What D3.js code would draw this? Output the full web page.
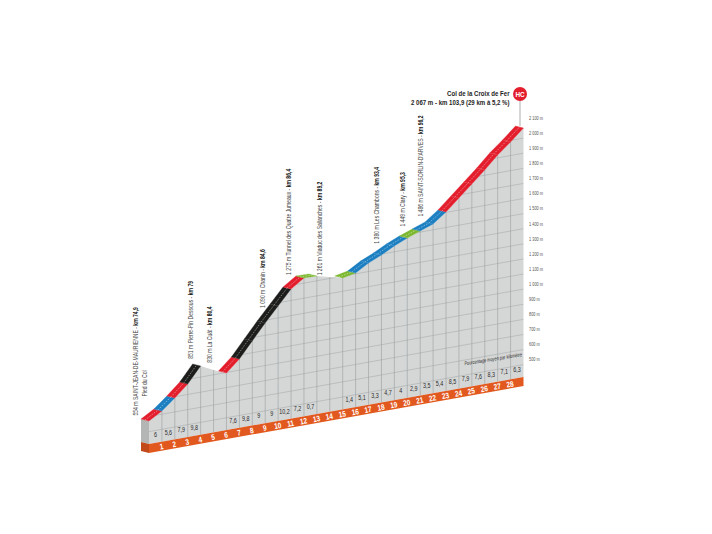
<!DOCTYPE html>
<html>
<head>
<meta charset="utf-8">
<style>
html, body { margin: 0; background: #fff; }
text { font-family: "Liberation Sans", sans-serif; }
</style>
<script src="https://cdn.jsdelivr.net/npm/d3@7"></script>
</head>
<body>
<svg id="chart" width="712" height="534"></svg>
<script>
// elevation (m) read at each km mark, km 0 to km 29
var elevations = [570, 621, 692, 769, 874, 831, 796, 874, 978, 1082, 1179, 1276, 1334, 1332, 1310, 1288, 1305, 1356, 1394, 1439, 1476, 1507, 1539, 1603, 1680, 1757, 1835, 1919, 1990, 2067]
// average gradient of each km, null where nothing is printed
var gradients = ['6', '5,6', '7,9', '9,8', null, null, '7,6', '9,8', '9', '9', '10,2', '7,2', '0,7', null, null, '1,4', '5,1', '3,3', '4,7', '4', '2,9', '3,5', '5,4', '8,5', '7,9', '7,6', '8,3', '7,1', '6,3']
var difficulty = ['r', 'b', 'r', 'k', null, null, 'r', 'k', 'k', 'k', 'k', 'r', 'g', null, null, 'g', 'b', 'b', 'b', 'b', 'g', 'b', 'b', 'r', 'r', 'r', 'r', 'r', 'r']
var axisTicks = [500, 600, 700, 800, 900, 1000, 1100, 1200, 1300, 1400, 1500, 1600, 1700, 1800, 1900, 2000, 2100]
var axisLabels = ['500 m', '600 m', '700 m', '800 m', '900 m', '1 000 m', '1 100 m', '1 200 m', '1 300 m', '1 400 m', '1 500 m', '1 600 m', '1 700 m', '1 800 m', '1 900 m', '2 000 m', '2 100 m']
var placeKm = [-0.85, 3.4, 4.9, 9, 11, 13.4, 17.8, 19.8, 21.2]
var placeNames = ['554 m SAINT-JEAN-DE-MAURIENNE', '851 m Pierre-Pin Dessous', '830 m La Cuât', '1 090 m Chanin', '1 275 m Tunnel des Quatre Jumeaux', '1 261 m Viaduc des Sallanches', '1 380 m Les Chambons', '1 449 m Clary', "1 486 m SAINT-SORLIN-D'ARVES"]
var placePk = ['km 74,9', 'km 79', 'km 80,4', 'km 84,6', 'km 86,4', 'km 89,2', 'km 93,4', 'km 95,3', 'km 96,2']
var placeLift = [14, 18, 7, 15, 14, 1, 13, 13, 13]

var colors = {r: '#e31e2d', b: '#1b7fc1', k: '#1d1d1b', g: '#7cb82f'}
var baseEle = 418
var kms = d3.range(0, 30)

var svg = d3.select('#chart')

var x = d3.scaleLinear().domain([0, 29]).range([149, 523.5])
var yEle = d3.scaleLinear().domain([2067, baseEle]).range([128, 377])
var skew = d3.scaleLinear().domain([0, 29]).range([67, 0])
function py(km, ele) { return yEle(ele) + skew(km) }

var line = d3.line()
var faceGeom = kms.map(function(k) { return [x(k), py(k, elevations[k])] })
faceGeom.push([x(29), py(29, baseEle)], [x(0), py(0, baseEle)])

svg.append('clipPath').attr('id', 'face').append('path').attr('d', line(faceGeom) + 'Z')

// left side
svg.append('path')
  .attr('d', line([[x(0) - 8, py(0, elevations[0]) - 2], [x(0), py(0, elevations[0])], [x(0), py(0, baseEle)], [x(0) - 8, py(0, baseEle) - 2]]) + 'Z')
  .attr('fill', '#b4b6b6')

svg.append('path').attr('d', line(faceGeom) + 'Z').attr('fill', '#d5d7d7')

var grid = svg.append('g').attr('clip-path', 'url(#face)')
grid.selectAll('.h').data(axisTicks).enter().append('line')
  .attr('x1', x(0)).attr('x2', x(29))
  .attr('y1', function(d) { return py(0, d) })
  .attr('y2', function(d) { return py(29, d) })
  .attr('stroke', '#a9acac').attr('stroke-width', 0.6)
grid.selectAll('.v').data(d3.range(1, 29)).enter().append('line')
  .attr('x1', x).attr('x2', x)
  .attr('y1', function(d) { return py(d, elevations[d]) })
  .attr('y2', function(d) { return py(d, baseEle) })
  .attr('stroke', '#9a9d9d').attr('stroke-width', 0.6)

// orange band
svg.append('path')
  .attr('d', line([[x(0) - 8, py(0, baseEle) - 2], [x(0), py(0, baseEle)], [x(0), py(0, baseEle) + 9], [x(0) - 8, py(0, baseEle) + 7]]) + 'Z')
  .attr('fill', '#c24a1a')
svg.append('path')
  .attr('d', line([[x(0), py(0, baseEle)], [x(29), py(29, baseEle)], [x(29), py(29, baseEle) + 9], [x(0), py(0, baseEle) + 9]]) + 'Z')
  .attr('fill', '#e2591f')

// ridge, one piece per km
difficulty.forEach(function(c, i) {
  if (!c) return
  var a = [x(i), py(i, elevations[i])]
  var b = [x(i + 1), py(i + 1, elevations[i + 1])]
  svg.append('path')
    .attr('d', line([a, b, [b[0] - 8, b[1] - 2], [a[0] - 8, a[1] - 2]]) + 'Z')
    .attr('fill', colors[c]).attr('stroke', colors[c]).attr('stroke-width', 0.3)
  svg.append('path')
    .attr('d', line([[a[0] - 4, a[1] - 1], [b[0] - 4, b[1] - 1]]))
    .attr('stroke', '#fff').attr('stroke-width', 0.5).attr('stroke-dasharray', '1.6,1.2').attr('opacity', 0.85)
})

// pole and HC badge
svg.append('line').attr('x1', 520).attr('x2', 520).attr('y1', 94).attr('y2', py(29, 2067) - 2)
  .attr('stroke', '#777').attr('stroke-width', 0.6)
svg.append('circle').attr('cx', 520).attr('cy', 94).attr('r', 7).attr('fill', '#e31e2d')
svg.append('text').attr('transform', 'translate(520,96.5) scale(.85,1)').attr('text-anchor', 'middle')
  .attr('fill', '#fff').attr('font-size', 7.5).attr('font-weight', 'bold').text('HC')

svg.append('text').attr('transform', 'translate(509.5,96) scale(.76,1)').attr('text-anchor', 'end')
  .attr('fill', '#1d1d1b').attr('font-size', 8).attr('font-weight', 'bold').text('Col de la Croix de Fer')
svg.append('text').attr('transform', 'translate(509.5,104.5) scale(.76,1)').attr('text-anchor', 'end')
  .attr('fill', '#1d1d1b').attr('font-size', 8).attr('font-weight', 'bold').text('2 067 m - km 103,9 (29 km à 5,2 %)')

// elevation axis
svg.selectAll('.tick').data(axisTicks).enter().append('text')
  .attr('transform', function(d) { return 'translate(529,' + (py(29, d) - 3.2) + ') scale(.85,1)' })
  .attr('fill', '#555').attr('font-size', 4.6)
  .text(function(d, i) { return axisLabels[i] })

// km numbers on the band
svg.selectAll('.kmn').data(d3.range(1, 29)).enter().append('text')
  .attr('transform', function(d) { return 'translate(' + x(d) + ',' + (py(d, baseEle) + 7.6) + ') rotate(-10) scale(.8,1)' })
  .attr('text-anchor', 'middle').attr('fill', '#fff').attr('font-size', 8).attr('font-weight', 'bold')
  .text(function(d) { return d })

// gradients
gradients.forEach(function(g, i) {
  if (!g) return
  svg.append('text')
    .attr('transform', 'translate(' + x(i + 0.5) + ',' + (py(i + 0.5, baseEle) - 6) + ') scale(.72,1)')
    .attr('text-anchor', 'middle').attr('fill', '#2b2b2b').attr('font-size', 7.5).text(g)
})
svg.append('text')
  .attr('transform', 'translate(' + x(28.9) + ',' + (py(28.9, baseEle) - 21) + ') rotate(-9) scale(.72,1)')
  .attr('text-anchor', 'end').attr('fill', '#2b2b2b').attr('font-size', 5.4).attr('font-style', 'italic')
  .text('Pourcentage moyen par kilomètre')

// places
function profileAt(km) {
  var k = Math.max(0, Math.min(28, Math.floor(km)))
  var e = elevations[k] + (elevations[k + 1] - elevations[k]) * (km - k)
  return py(km, e)
}
placeNames.forEach(function(name, i) {
  var t = svg.append('text')
    .attr('transform', 'translate(' + x(placeKm[i]) + ',' + (profileAt(placeKm[i]) - placeLift[i]) + ') rotate(-90) scale(.78,1)')
    .attr('fill', '#444').attr('font-size', 6.5)
  t.append('tspan').text(name + ' - ')
  t.append('tspan').attr('font-weight', 'bold').attr('fill', '#111').text(placePk[i])
})
svg.append('text')
  .attr('transform', 'translate(' + (x(placeKm[0]) + 9) + ',' + (profileAt(placeKm[0]) - 33) + ') rotate(-90) scale(.78,1)')
  .attr('fill', '#444').attr('font-size', 6.5).text('Pied du Col')
</script>
</body>
</html>
